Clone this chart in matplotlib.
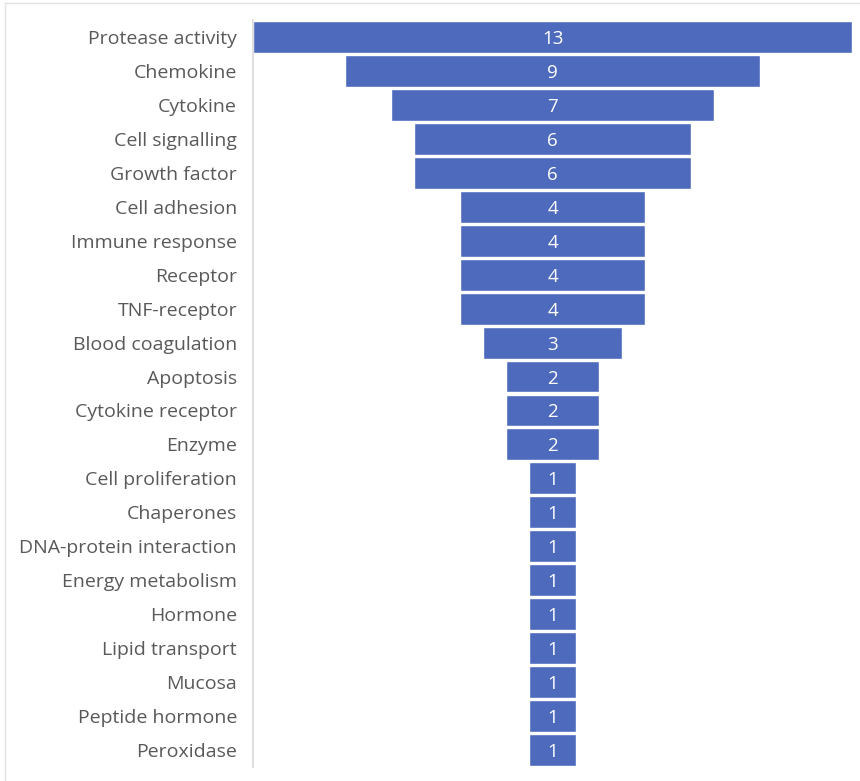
import matplotlib.pyplot as plt
from matplotlib.lines import Line2D

categories = ['Protease activity', 'Chemokine', 'Cytokine', 'Cell signalling',
              'Growth factor', 'Cell adhesion', 'Immune response', 'Receptor',
              'TNF-receptor', 'Blood coagulation', 'Apoptosis', 'Cytokine receptor',
              'Enzyme', 'Cell proliferation', 'Chaperones', 'DNA-protein interaction',
              'Energy metabolism', 'Hormone', 'Lipid transport', 'Mucosa',
              'Peptide hormone', 'Peroxidase']
counts = [13, 9, 7, 6, 6, 4, 4, 4, 4, 3, 2, 2, 2, 1, 1, 1, 1, 1, 1, 1, 1, 1]

bar_color = '#4e6abd'
text_color = '#595959'

fig = plt.figure(figsize=(8.6, 7.81), dpi=100)
ax = fig.add_axes([253/860, 1 - 767/781, (852 - 253)/860, (767 - 20)/781])

ypos = list(range(len(categories)))
lefts = [-c / 2 for c in counts]
ax.barh(ypos, counts, left=lefts, height=0.94, color=bar_color,
        edgecolor='white', linewidth=1.0)

for y, c in zip(ypos, counts):
    ax.text(0, y, str(c), ha='center', va='center_baseline', color='white',
            fontsize=13.5, family='Open Sans')

ax.set_xlim(-6.5, 6.5)
ax.set_ylim(len(categories) - 0.5, -0.5)
ax.set_yticks(ypos)
ax.set_yticklabels(categories, fontsize=14, color=text_color, family='Open Sans')
for lbl in ax.get_yticklabels():
    lbl.set_verticalalignment('center_baseline')
ax.tick_params(axis='y', length=0, pad=11.5)
ax.set_xticks([])

for side in ['top', 'right', 'bottom']:
    ax.spines[side].set_visible(False)
ax.spines['left'].set_color('#d9d9d9')
ax.spines['left'].set_linewidth(1.2)

# outer chart frame
fig.add_artist(Line2D([5/860, 1], [1 - 3/781, 1 - 3/781], color='#e3e3e3', lw=1))
fig.add_artist(Line2D([5/860, 5/860], [1 - 3/781, 0], color='#e3e3e3', lw=1))

fig.savefig('out.png', dpi=100)
